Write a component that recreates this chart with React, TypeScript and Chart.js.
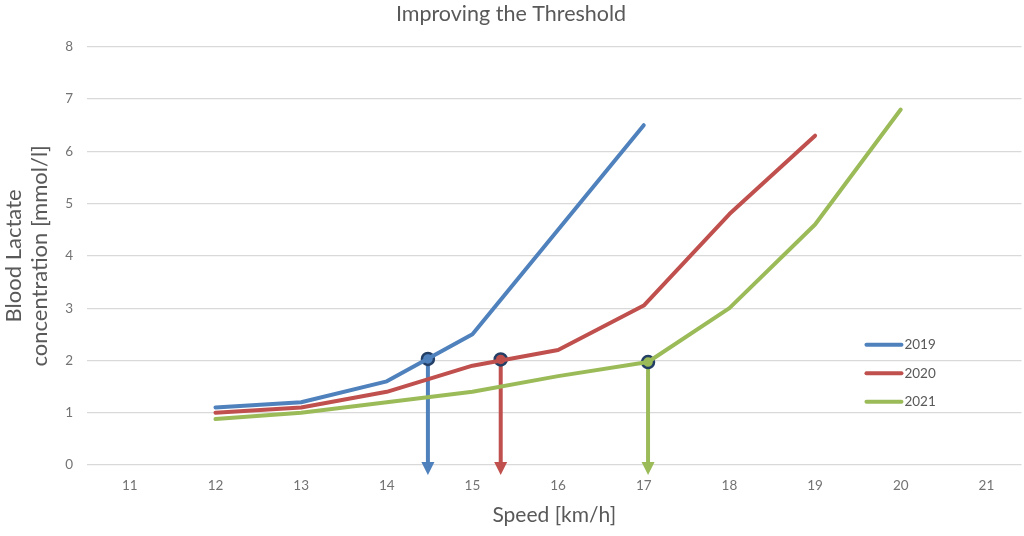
import React, { useEffect, useRef } from 'react';
import { Chart, registerables } from 'chart.js';

Chart.register(...registerables);

const chartTitle = 'Improving the Threshold';
const xAxisTitle = 'Speed [km/h]';
const yAxisTitle = ['Blood Lactate', 'concentration [mmol/l]'];

const seriesLabels = ['2019', '2020', '2021'];
const seriesColors = ['#4F81BD', '#C0504D', '#9BBB59'];

const speeds2019 = [12, 13, 14, 15, 16, 17];
const lactate2019 = [1.1, 1.2, 1.6, 2.5, 4.5, 6.5];
const speeds2020 = [12, 13, 14, 15, 16, 17, 18, 19];
const lactate2020 = [1.0, 1.1, 1.4, 1.9, 2.2, 3.05, 4.8, 6.3];
const speeds2021 = [12, 13, 14, 15, 16, 17.05, 18, 19, 20];
const lactate2021 = [0.88, 1.0, 1.2, 1.4, 1.7, 1.97, 3.0, 4.6, 6.8];

const thresholdSpeeds = [14.48, 15.33, 17.05];
const thresholdLactate = [2.03, 2.02, 1.97];

const xTickValues = [11, 12, 13, 14, 15, 16, 17, 18, 19, 20, 21];
const yTickValues = [0, 1, 2, 3, 4, 5, 6, 7, 8];

const FONT = 'Lato, "Open Sans", sans-serif';
const markerBorder = '#243F66';

const toPoints = (xs: number[], ys: number[]) => xs.map((x, i) => ({ x, y: ys[i] }));

export default function App() {
  const canvasRef = useRef<HTMLCanvasElement | null>(null);

  useEffect(() => {
    if (!canvasRef.current) return;

    const arrowPlugin = {
      id: 'thresholdArrows',
      beforeDatasetDraw(chart: any, args: any) {
        if (args.index !== 3) return;
        const ctx = chart.ctx;
        const xs = chart.scales.x;
        const ys = chart.scales.y;
        ctx.save();
        thresholdSpeeds.forEach((sx, i) => {
          const px = xs.getPixelForValue(sx);
          const py = ys.getPixelForValue(thresholdLactate[i]);
          const base = ys.getPixelForValue(0);
          const tip = base + 10;
          const headTop = base - 3;
          ctx.strokeStyle = seriesColors[i];
          ctx.fillStyle = seriesColors[i];
          ctx.lineWidth = 4;
          ctx.beginPath();
          ctx.moveTo(px, py);
          ctx.lineTo(px, headTop + 1);
          ctx.stroke();
          ctx.beginPath();
          ctx.moveTo(px - 6.5, headTop);
          ctx.lineTo(px + 6.5, headTop);
          ctx.lineTo(px, tip);
          ctx.closePath();
          ctx.fill();
        });
        ctx.restore();
      },
    };

    const legendPlugin = {
      id: 'insideLegend',
      afterDraw(chart: any) {
        const ctx = chart.ctx;
        const ys = chart.scales.y;
        const xs = chart.scales.x;
        ctx.save();
        const x0 = xs.getPixelForValue(19.6);
        const y0 = ys.getPixelForValue(2.3);
        seriesLabels.forEach((lab, i) => {
          const y = y0 + i * 28.5;
          ctx.strokeStyle = seriesColors[i];
          ctx.lineWidth = 4;
          ctx.lineCap = 'round';
          ctx.beginPath();
          ctx.moveTo(x0, y);
          ctx.lineTo(x0 + 35, y);
          ctx.stroke();
          ctx.fillStyle = '#595959';
          ctx.font = `13.5px ${FONT}`;
          ctx.textBaseline = 'middle';
          ctx.textAlign = 'left';
          ctx.fillText(lab, x0 + 38, y);
        });
        ctx.restore();
      },
    };

    const lineDs = (i: number, pts: { x: number; y: number }[]) => ({
      label: seriesLabels[i],
      data: pts,
      borderColor: seriesColors[i],
      backgroundColor: seriesColors[i],
      borderWidth: 4,
      pointRadius: 0,
      borderCapStyle: 'round',
      borderJoinStyle: 'round',
      tension: 0,
      showLine: true,
    });

    const chart = new Chart(canvasRef.current, {
      type: 'line',
      data: {
        datasets: [
          lineDs(0, toPoints(speeds2019, lactate2019)),
          lineDs(1, toPoints(speeds2020, lactate2020)),
          lineDs(2, toPoints(speeds2021, lactate2021)),
          {
            label: 'Threshold',
            data: toPoints(thresholdSpeeds, thresholdLactate),
            showLine: false,
            pointRadius: 6,
            pointBorderWidth: 2.5,
            pointBorderColor: markerBorder,
            pointBackgroundColor: seriesColors,
            borderColor: markerBorder,
            backgroundColor: seriesColors,
          } as any,
        ],
      },
      options: {
        animation: false,
        responsive: true,
        maintainAspectRatio: false,
        layout: { padding: { left: 0, right: 8, top: 0, bottom: 0 } },
        plugins: {
          legend: { display: false },
          tooltip: { enabled: false },
          title: {
            display: true,
            text: chartTitle,
            color: '#595959',
            font: { family: FONT, size: 21.5, weight: 'normal', lineHeight: 1.2 },
            padding: { top: 1, bottom: 20 },
          },
        },
        scales: {
          x: {
            type: 'linear',
            min: 10.5,
            max: 21.41,
            afterBuildTicks: (scale: any) => {
              scale.ticks = xTickValues.map((v) => ({ value: v }));
            },
            afterFit: (scale: any) => {
              scale.height = 71;
            },
            grid: { display: false, drawTicks: false },
            border: { display: false },
            ticks: {
              color: '#737373',
              font: { family: FONT, size: 13.5 },
              padding: 13,
              maxRotation: 0,
              autoSkip: false,
            },
            title: {
              display: true,
              text: xAxisTitle,
              color: '#595959',
              font: { family: FONT, size: 21, lineHeight: 1.2 },
              padding: { top: 0, bottom: 8 },
            },
          },
          y: {
            type: 'linear',
            min: 0,
            max: 8,
            afterBuildTicks: (scale: any) => {
              scale.ticks = yTickValues.map((v) => ({ value: v }));
            },
            afterFit: (scale: any) => {
              scale.width = 87;
            },
            grid: { color: '#D9D9D9', lineWidth: 1.2, drawTicks: false },
            border: { display: false },
            ticks: {
              color: '#737373',
              font: { family: FONT, size: 13.5 },
              padding: 14,
            },
            title: {
              display: true,
              text: yAxisTitle,
              color: '#595959',
              font: { family: FONT, size: 22, lineHeight: 1.18 },
              padding: { top: 1, bottom: 0 },
            },
          },
        },
      } as any,
      plugins: [arrowPlugin, legendPlugin],
    });

    return () => chart.destroy();
  }, []);

  return (
    <div style={{ position: 'fixed', left: 0, top: 0, width: 1030, height: 536, background: '#fff', overflow: 'hidden' }}>
      <canvas ref={canvasRef} />
    </div>
  );
}
